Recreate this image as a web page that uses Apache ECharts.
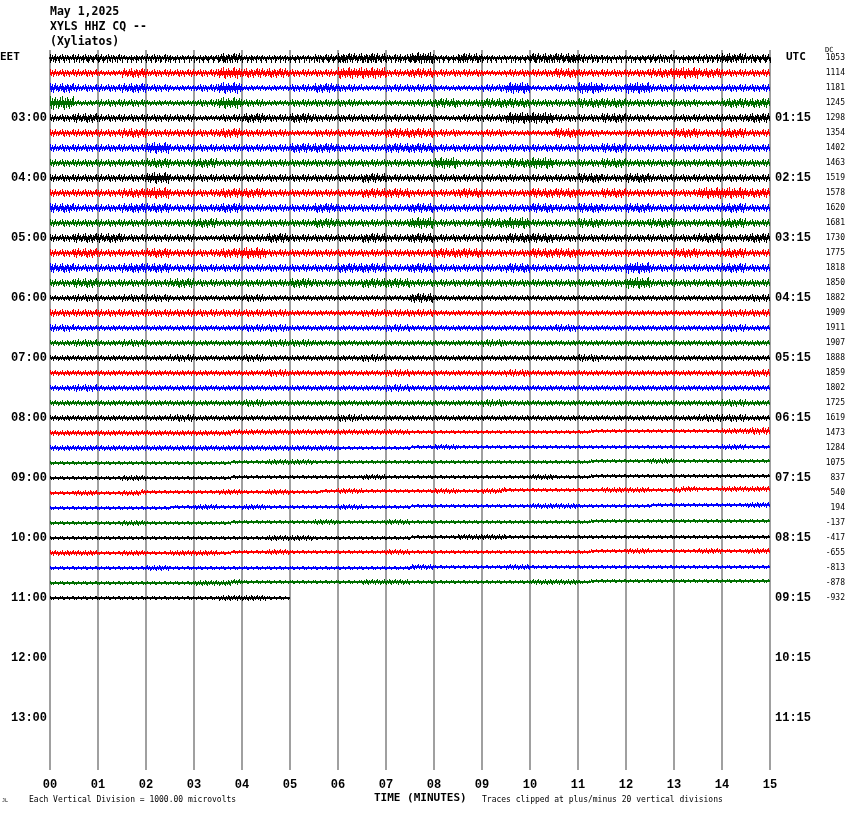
<!DOCTYPE html>
<html><head><meta charset="utf-8">
<script src="https://cdn.jsdelivr.net/npm/echarts@6/dist/echarts.min.js"></script>
<style>html,body{margin:0;padding:0;background:#fff}#c{width:850px;height:814px}</style>
</head><body><div id="c"></div>
<script>
// ---- data ----
const titleLines = ['May 1,2025', 'XYLS HHZ CQ --', '(Xyliatos)'];
const minuteTicks = [0,1,2,3,4,5,6,7,8,9,10,11,12,13,14,15];
const hourLabelsEET = ['03:00','04:00','05:00','06:00','07:00','08:00','09:00','10:00','11:00','12:00','13:00'];
const hourLabelsUTC = ['01:15','02:15','03:15','04:15','05:15','06:15','07:15','08:15','09:15','10:15','11:15'];
const dcValues = [1053,1114,1181,1245,1298,1354,1402,1463,1519,1578,1620,1681,1730,1775,1818,1850,1882,1909,1911,1907,1888,1859,1802,1725,1619,1473,1284,1075,837,540,194,-137,-417,-655,-813,-878,-932];
// peak amplitude of each trace per half-minute (relative units)
const traceAmps = [
[4,4,4,3,4,3,3,5,3,3,3,4,5,5,4,6,3,5,3,3,5,5,4,3,3,4,3,4,5,4],
[4,4,3,5,4,4,4,6,5,5,4,4,6,6,4,5,4,4,3,4,4,5,4,4,4,5,6,5,4,4],
[5,4,4,5,4,3,4,6,3,3,4,5,4,3,4,4,3,3,4,6,3,4,6,4,6,4,4,3,4,4],
[7,3,4,4,3,3,4,6,4,3,4,4,4,3,3,4,5,4,5,5,4,4,5,5,4,4,4,3,5,5],
[4,5,4,4,4,4,3,4,5,4,5,4,4,4,4,4,3,4,4,6,6,4,4,5,4,3,4,4,4,5],
[4,4,4,5,4,4,4,5,4,4,3,4,4,4,5,5,4,3,4,3,3,5,4,3,4,4,5,4,5,4],
[4,4,4,4,6,4,4,4,4,4,5,5,4,4,5,5,4,4,4,4,4,4,4,5,4,4,4,4,4,4],
[4,4,4,4,5,4,5,4,4,4,4,4,4,4,4,4,6,4,4,5,6,4,4,5,4,4,4,4,4,4],
[4,4,4,4,6,4,4,4,4,4,4,4,4,5,4,4,4,4,4,4,4,4,5,4,5,4,4,4,4,4],
[4,4,4,5,6,4,4,5,5,4,4,4,4,5,5,4,4,5,4,4,5,5,4,5,4,4,4,6,6,5],
[5,4,4,5,5,4,4,5,4,4,4,5,4,4,4,5,4,4,4,4,5,4,5,4,5,4,4,4,5,4],
[4,4,4,4,4,4,5,4,4,4,4,5,4,4,4,6,4,4,5,6,4,4,5,4,4,5,4,4,5,4],
[4,5,5,4,4,4,3,4,4,5,4,4,4,5,4,5,4,4,4,5,5,4,4,4,4,4,4,5,4,5],
[4,5,4,4,5,4,4,5,6,4,4,4,4,4,4,4,5,5,4,4,5,5,4,4,4,4,5,4,5,4],
[5,4,4,5,5,4,4,4,4,4,4,4,5,5,4,5,4,4,4,5,4,4,4,4,6,4,4,4,5,4],
[4,5,4,4,4,5,4,4,4,4,5,4,4,5,5,4,4,4,4,4,4,4,4,4,6,4,4,4,4,4],
[3,4,3,4,4,3,3,3,4,3,3,3,3,3,3,5,3,3,3,3,3,3,3,3,3,3,3,3,3,4],
[4,4,4,4,4,4,4,4,4,4,3,3,3,4,4,4,3,3,3,3,3,3,3,3,3,3,3,3,4,4],
[4,3,3,3,3,3,3,3,4,4,3,3,3,3,4,3,3,3,3,3,3,4,3,3,3,3,3,3,4,3],
[3,4,3,4,3,3,3,3,3,4,4,3,3,3,3,3,3,3,4,3,3,3,3,3,3,3,3,3,3,3],
[3,3,3,3,3,4,3,3,4,3,3,3,3,4,3,3,3,3,3,3,3,3,4,3,3,3,3,3,3,3],
[3,3,3,3,3,3,3,3,3,4,3,3,3,3,4,3,3,3,3,4,3,3,3,3,3,3,3,3,3,4],
[3,4,3,3,3,3,3,3,3,3,3,3,3,3,4,3,3,3,3,3,3,3,3,3,3,3,3,3,3,3],
[3,3,3,3,3,3,3,3,4,3,3,3,3,3,3,3,3,3,4,3,3,3,3,3,3,3,3,3,4,3],
[3,3,3,3,3,4,3,3,3,3,3,3,4,3,3,3,3,3,3,3,3,3,3,3,3,3,3,4,4,3],
[3,3,3,3,3,3,3,3,3,3,3,3,3,3,3,2,2,2,2,2,2,2,2,2,2,2,2,2,3,4],
[3,3,3,3,3,3,3,3,3,3,3,3,2,2,2,2,3,2,2,2,2,2,2,2,2,2,2,2,3,2],
[2,2,2,2,2,2,2,2,2,3,3,2,2,2,2,2,2,2,2,2,2,2,2,2,2,3,2,2,2,2],
[2,2,2,3,2,2,2,2,2,2,2,2,2,3,2,2,2,2,2,2,3,2,2,2,2,2,2,2,2,2],
[2,3,2,3,2,2,2,3,2,3,2,2,3,2,2,2,3,2,3,2,2,2,2,3,3,2,3,2,3,3],
[2,2,2,2,2,2,3,2,3,2,2,2,3,2,2,2,2,2,2,2,3,3,2,2,2,2,2,2,2,3],
[2,2,2,3,2,2,2,2,2,2,2,3,2,2,3,2,2,2,2,2,2,2,2,2,2,2,2,2,2,2],
[2,2,2,2,2,2,2,2,2,3,3,2,2,2,2,2,2,3,3,2,2,2,2,2,2,2,2,2,2,2],
[3,3,2,3,2,3,3,2,2,3,2,2,2,2,3,2,2,2,2,2,2,2,2,2,3,2,2,3,2,3],
[2,2,2,2,3,2,2,2,2,2,2,2,2,2,2,3,2,2,2,3,2,2,2,2,2,2,2,2,2,2],
[2,2,2,2,2,2,3,3,2,2,2,2,2,3,3,2,2,2,2,2,3,3,2,2,2,2,2,2,2,2],
[2,2,2,2,2,2,2,3,3,2]
];
// baseline drift (rise at end of trace, relative units)
const traceDrift = [0,0,0,0,0,0,0,0,0,0,0,0,0,0,0,0,0,0,0,0,0,0,0,0,0,2,1,2,2,4,3,2,1,2,1,2,0];

// ---- styles ----
const traceColors = ['#000000','#ff0000','#0000ff','#006f00'];
const texture = [1,0.35,0.7,0.25,0.5,0.9,0.3,0.6,0.25,0.45,0.8,0.3,1,0.4,0.25,0.65,0.3,0.85,0.5,0.25,0.55,0.3,0.75];
const ROW_MIN = 15; // minutes per trace line
const YMIN = -8, YMAX = 712;
const mono = 'DejaVu Sans Mono';
const cour = 'Liberation Mono';

const chart = echarts.init(document.getElementById('c'), null, {renderer:'canvas'});
const rowData = traceAmps.map((a, i) => [0, i * ROW_MIN]);

function renderTrace(params, api) {
  const i = params.dataIndex;
  const amps = traceAmps[i];
  const p0 = api.coord([0, i * ROW_MIN]);
  const p1 = api.coord([1, i * ROW_MIN]);
  const ppm = p1[0] - p0[0];
  const xEnd = api.coord([amps.length / 2, i * ROW_MIN])[0];
  const segs = [];
  const n = texture.length;
  let k = 0;
  for (let px = Math.round(p0[0]); px < Math.round(xEnd); px++, k++) {
    const t = (px - p0[0]) / ppm;
    const bin = Math.min(amps.length - 1, Math.max(0, Math.floor(t * 2)));
    const a = amps[bin];
    const up = Math.max(1, Math.round(a * texture[k % n]));
    const dn = Math.max(1, Math.round(a * texture[(k + 9) % n]));
    const yb = Math.round(p0[1] - traceDrift[i] * t / 15);
    segs.push({
      type: 'line',
      shape: { x1: px + 0.5, y1: yb - up, x2: px + 0.5, y2: yb + dn },
      style: { stroke: traceColors[i % 4], lineWidth: 1 }
    });
  }
  return { type: 'group', children: segs };
}

const hourVals = hourLabelsEET.map((_, k) => (k + 1) * 60);
const dcVals = dcValues.map((_, k) => k * ROW_MIN);

const option = {
  animation: false,
  backgroundColor: '#fff',
  grid: { left: 50, right: 80, top: 50, bottom: 44 },
  xAxis: [{
    type: 'value', min: 0, max: 15, interval: 1, position: 'bottom',
    axisLine: { show: true, lineStyle: { color: '#000', width: 1 } },
    axisTick: { show: true, length: 5, lineStyle: { color: '#000' } },
    minorTick: { show: true, splitNumber: 10, length: 5, lineStyle: { color: '#000' } },
    splitLine: { show: true, lineStyle: { color: '#808080', width: 1.5 } },
    axisLabel: { margin: 9, color: '#000', fontFamily: cour, fontWeight: 'bold', fontSize: 12,
      formatter: v => String(minuteTicks[v]).padStart(2, '0') }
  }, {
    type: 'value', min: 0, max: 15, position: 'top',
    axisLine: { show: true, lineStyle: { color: '#000', width: 2 } },
    axisTick: { show: false }, axisLabel: { show: false }, splitLine: { show: false }
  }],
  yAxis: [{
    type: 'value', min: YMIN, max: YMAX, inverse: true, position: 'left',
    axisLine: { show: false }, axisTick: { show: false }, splitLine: { show: false },
    axisLabel: { customValues: hourVals, margin: 3, color: '#000', fontFamily: cour, fontWeight: 'bold', fontSize: 12,
      formatter: v => hourLabelsEET[v / 60 - 1] }
  }, {
    type: 'value', min: YMIN, max: YMAX, inverse: true, position: 'right',
    axisLine: { show: false }, axisTick: { show: false }, splitLine: { show: false },
    axisLabel: { customValues: hourVals, margin: 5, color: '#000', fontFamily: cour, fontWeight: 'bold', fontSize: 12,
      formatter: v => hourLabelsUTC[v / 60 - 1] }
  }, {
    type: 'value', min: YMIN, max: YMAX, inverse: true, position: 'right', offset: 75,
    axisLine: { show: false }, axisTick: { show: false }, splitLine: { show: false },
    axisLabel: { customValues: dcVals, inside: true, margin: 0, color: '#000', fontFamily: mono, fontSize: 8,
      formatter: v => String(dcValues[Math.round(v / ROW_MIN)]) }
  }],
  series: [{
    type: 'custom', xAxisIndex: 0, yAxisIndex: 0,
    data: rowData, encode: { x: 0, y: 1 },
    renderItem: renderTrace, silent: true
  }],
  graphic: [
    { type: 'text', left: 50, top: 5, style: { text: titleLines.join('\n'), fill: '#000', font: 'bold 11.5px "DejaVu Sans Mono"', lineHeight: 15 } },
    { type: 'text', left: 0, top: 52, style: { text: 'EET', fill: '#000', font: 'bold 11px "DejaVu Sans Mono"' } },
    { type: 'text', left: 786, top: 52, style: { text: 'UTC', fill: '#000', font: 'bold 11px "DejaVu Sans Mono"' } },
    { type: 'text', left: 825, top: 47, style: { text: 'DC', fill: '#000', font: '7px "DejaVu Sans Mono"' } },
    { type: 'text', left: 2, top: 798, style: { text: 'JL', fill: '#000', font: '5px "DejaVu Sans Mono"' } },
    { type: 'text', left: 29, top: 796, style: { text: 'Each Vertical Division = 1000.00 microvolts', fill: '#000', font: '8px "DejaVu Sans Mono"' } },
    { type: 'text', left: 374, top: 793, style: { text: 'TIME (MINUTES)', fill: '#000', font: 'bold 11px "DejaVu Sans Mono"' } },
    { type: 'text', left: 482, top: 796, style: { text: 'Traces clipped at plus/minus 20 vertical divisions', fill: '#000', font: '8px "DejaVu Sans Mono"' } }
  ]
};
chart.setOption(option);
</script>
</body></html>
